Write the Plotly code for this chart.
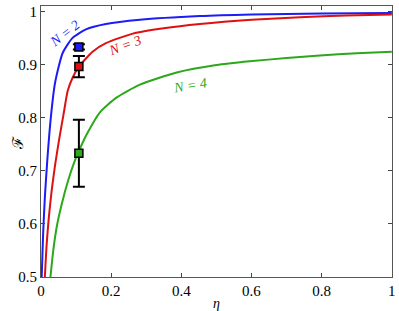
import plotly.graph_objects as go

# Curve samples
eta_n2 = [0.002, 0.006, 0.011, 0.018, 0.028, 0.040, 0.062, 0.090, 0.128, 0.185, 0.282, 0.453, 0.6, 0.8, 1.0]
fid_n2 = [0.50, 0.58, 0.65, 0.72, 0.80, 0.865, 0.922, 0.950, 0.966, 0.976, 0.984, 0.991, 0.994, 0.996, 0.997]

eta_n3 = [0.011, 0.016, 0.022, 0.030, 0.040, 0.052, 0.064, 0.076, 0.090, 0.107, 0.147, 0.185, 0.262, 0.35, 0.453, 0.6, 0.738, 0.87, 1.0]
fid_n3 = [0.50, 0.56, 0.61, 0.66, 0.71, 0.76, 0.805, 0.850, 0.875, 0.895, 0.924, 0.940, 0.958, 0.968, 0.976, 0.984, 0.989, 0.992, 0.994]

eta_n4 = [0.027, 0.035, 0.045, 0.059, 0.078, 0.097, 0.108, 0.130, 0.168, 0.216, 0.282, 0.387, 0.5, 0.595, 0.7, 0.795, 0.9, 1.0]
fid_n4 = [0.50, 0.55, 0.595, 0.637, 0.683, 0.72, 0.737, 0.768, 0.810, 0.838, 0.862, 0.885, 0.899, 0.906, 0.912, 0.917, 0.921, 0.924]

# Experimental points
exp_eta = [0.108, 0.108, 0.108]
exp_fid = [0.933, 0.896, 0.733]
exp_err = [0.005, 0.020, 0.063]

labels = ["N = 2", "N = 3", "N = 4"]
label_x = [0.068, 0.239, 0.424]
label_y = [0.958, 0.936, 0.861]
label_angle = [-38, -20, -9]

x_ticks = [0, 0.2, 0.4, 0.6, 0.8, 1]
x_ticktext = ["0", "0.2", "0.4", "0.6", "0.8", "1"]
y_ticks = [0.5, 0.6, 0.7, 0.8, 0.9, 1.0]
y_ticktext = ["0.5", "0.6", "0.7", "0.8", "0.9", "1"]

blue = "#1c1cf5"
red = "#dd1111"
green = "#2ca81a"
colors = [blue, red, green]
serif = "Liberation Serif, Times New Roman, DejaVu Serif, serif"

fig = go.Figure()
for ex, fy, c in [(eta_n2, fid_n2, blue), (eta_n3, fid_n3, red), (eta_n4, fid_n4, green)]:
    fig.add_trace(go.Scatter(x=ex, y=fy, mode="lines", line=dict(color=c, width=2, shape="spline", smoothing=0.6),
                             showlegend=False, hoverinfo="skip"))

for i in range(3):
    fig.add_trace(go.Scatter(
        x=[exp_eta[i]], y=[exp_fid[i]], mode="markers",
        marker=dict(symbol="square", size=8, color=colors[i], line=dict(color="black", width=1.5)),
        error_y=dict(type="data", array=[exp_err[i]], visible=True, color="black", thickness=2, width=6),
        showlegend=False))

for i in range(3):
    fig.add_annotation(x=label_x[i], y=label_y[i], text=f"<i>{labels[i]}</i>", showarrow=False,
                       textangle=label_angle[i], font=dict(family=serif, size=14, color=colors[i]))

# y axis title as annotation (closer to tick labels, like the reference)
fig.add_annotation(xref="paper", yref="paper", x=-0.066, y=0.494, xanchor="center", yanchor="middle",
                   text="ℱ", showarrow=False, textangle=-90,
                   font=dict(family=serif, size=15, color="black"))

fig.update_layout(
    width=399, height=311,
    margin=dict(l=41, r=7, t=6, b=34),
    paper_bgcolor="white", plot_bgcolor="white",
    font=dict(family=serif, size=15, color="black"),
)
fig.update_xaxes(range=[0, 1.0005], tickvals=x_ticks, ticktext=x_ticktext, ticks="inside", ticklen=4,
                 showgrid=False, zeroline=False, showline=True, linecolor="#555", linewidth=1, mirror="allticks",
                 automargin=False, title=dict(text="<i>η</i>", standoff=0, font=dict(size=14)))
fig.update_yaxes(range=[0.5, 1.01], tickvals=y_ticks, ticktext=y_ticktext, ticks="inside", ticklen=4,
                 showgrid=False, zeroline=False, showline=True, linecolor="#555", linewidth=1, mirror="allticks",
                 automargin=False)

fig.write_html("out.html", config={"displayModeBar": False},
               post_script="document.body.style.margin='0';document.body.style.overflow='hidden';")
